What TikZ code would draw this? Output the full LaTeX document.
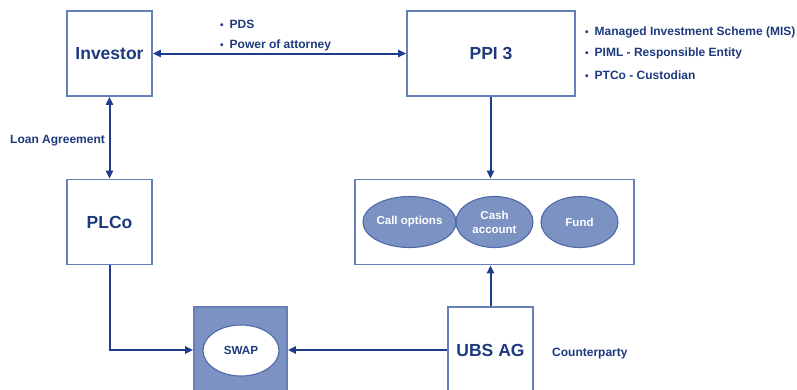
\documentclass[tikz,border=0pt]{standalone}
\usepackage{fontspec}
\setmainfont{Liberation Sans}
\usetikzlibrary{arrows.meta,shapes.geometric}
\definecolor{boxline}{HTML}{6580B8}
\definecolor{navy}{HTML}{1E3A7E}
\definecolor{arrowc}{HTML}{1F3B8C}
\definecolor{fillblue}{HTML}{7B92C2}
\definecolor{ellline}{HTML}{4F6AA8}
\newcommand{\bul}{{\fontsize{10}{12}\selectfont•}\hspace{6pt}}
\tikzset{
  box/.style={draw=boxline, line width=1.6pt, rectangle, inner sep=0pt},
  big/.style={font=\fontsize{17.5}{20}\selectfont\bfseries, text=navy},
  small/.style={font=\fontsize{12}{14}\selectfont\bfseries, text=navy, inner sep=0pt, anchor=west},
  cell/.style={ellipse, draw=ellline, line width=1.1pt, fill=fillblue, minimum width=77pt, minimum height=51pt, inner sep=0pt, text=white, font=\fontsize{11.5}{14}\selectfont\bfseries, align=center},
  arr/.style={draw=arrowc, line width=2pt, -{Triangle[length=8pt,width=7pt]}},
  darr/.style={draw=arrowc, line width=2pt, {Triangle[length=8pt,width=7pt]}-{Triangle[length=8pt,width=7pt]}},
}
\begin{document}
\begin{tikzpicture}[x=1pt,y=-1pt]
\useasboundingbox[fill=white] (0,0) rectangle (797,389);
\clip (0,0) rectangle (797,389);
% boxes
\node[box, big, minimum width=85pt, minimum height=85pt] (investor) at (109.5,53.5) {Investor};
\node[box, big, minimum width=168pt, minimum height=85pt] (ppi) at (491,53.5) {PPI 3};
\node[box, big, minimum width=85pt, minimum height=85pt] (plco) at (109.5,222) {PLCo};
\node[box, minimum width=279pt, minimum height=85pt] (cont) at (494.5,222) {};
\node[cell] (call) at (409.5,222) {Call options};
\node[cell] (cash) at (494.5,222) {Cash\\[0pt]account};
\node[cell] (fund) at (579.5,222) {Fund};
\node[box, big, minimum width=85pt, minimum height=86pt] (ubs) at (490.5,350) {UBS AG};
\node[box, fill=fillblue, minimum width=93pt, minimum height=86pt] (swapbox) at (240.5,350) {};
\node[ellipse, draw=ellline, line width=1.1pt, fill=white, minimum width=76pt, minimum height=51pt, inner sep=0pt, text=navy, font=\fontsize{11.7}{14}\selectfont\bfseries] (swap) at (241,350.5) {SWAP};
% labels
\node[small] (pds) at (220,24) {\bul PDS};
\node[small] (poa) at (220,45) {\bul Power of attorney};
\node[small] (mis) at (585,32) {\bul Managed Investment Scheme (MIS)};
\node[small] (piml) at (585,53) {\bul PIML - Responsible Entity};
\node[small] (ptco) at (585,75) {\bul PTCo - Custodian};
\node[small] (loan) at (10,141) {Loan Agreement};
\node[small] (cp) at (552,354) {Counterparty};
% connectors
\draw[darr] (investor) -- (ppi);
\draw[darr] (investor) -- (plco);
\draw[arr] (ppi.south -| ubs.north) -- (ubs.north |- cont.north);
\draw[arr] (ubs.north) -- (ubs.north |- cont.south);
\draw[arr] (plco.south) |- (swapbox.west);
\draw[arr] (ubs.west) -- (swapbox.east);
\end{tikzpicture}
\end{document}
